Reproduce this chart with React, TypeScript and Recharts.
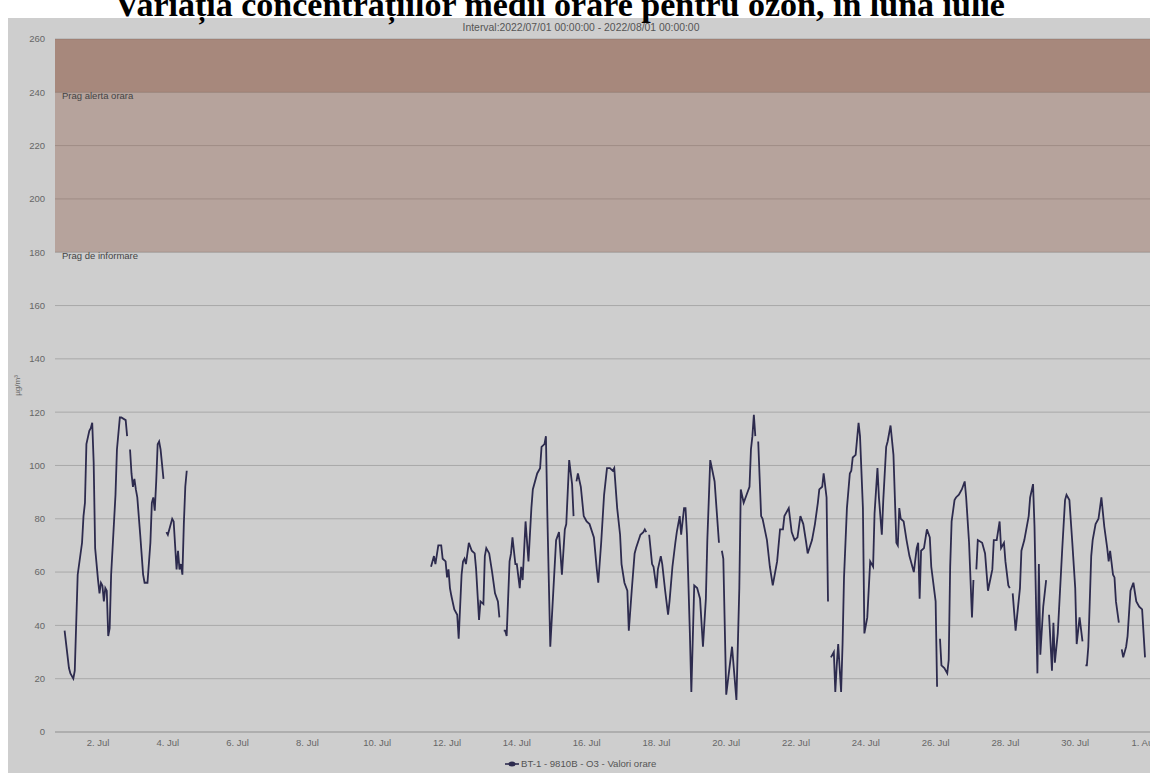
import React from "react";
import {
  CartesianGrid,
  Line,
  LineChart,
  ReferenceArea,
  ReferenceLine,
  XAxis,
  YAxis
} from "recharts";

// hours since 2022/07/01 00:00, null marks a gap in the measurements
const hours = [
  1, 4, 5, 7, 8, 10, 13, 14, 15, 16, 18, 19, 20, 21, 22, 24, 25, 26, 27, 28, 29, 30, 31, 32, 33, 36, 37, 39, 40, 43, 44, 45,
  46, 47, 48, 49, 50, 51, 53, 55, 56, 58, 60, 61, 62, 63, 64, 65, 66, 67, 69, 70,
  71, 72, 75, 76, 78, 79, 80, 81, 82, 83, 84, 85, 86,
  253, 255, 256, 258, 260, 261, 263, 264, 265, 266, 267, 269, 271, 272, 274, 275, 276, 277, 279, 281, 283, 284, 286, 287, 289,
  290, 291, 293, 295, 297, 299, 300, 301,
  303, 304, 305, 307, 308, 309, 311, 312, 314, 315, 316, 318, 320, 322, 323, 326, 328, 329, 331, 332, 333, 335, 337, 339, 341,
  342, 343, 345, 346, 348, 350, 351, 352,
  353, 354, 356, 358, 359, 360, 362, 365, 367, 368, 370, 372, 374, 376, 378, 379, 381, 383, 384, 386, 388, 389, 391, 393, 394,
  397, 399, 400, 401, 402,
  403, 405, 406, 408, 409, 411, 412, 414, 416, 417, 419, 421, 422, 424, 425, 427, 428, 429, 431, 432, 434, 436, 438, 440, 442,
  443, 445, 448, 451, 452,
  453, 454, 456, 460, 463, 465, 466, 468, 470, 472, 473, 474, 475, 476, 477,
  478, 480, 481, 484, 486, 488, 491, 493, 495, 496, 499, 501, 503, 505, 507, 509, 511, 512, 515, 517, 519, 520, 522, 523, 525,
  526, 527,
  528, 530, 531, 532, 533, 535, 536, 537, 539, 541, 542, 543, 545, 547, 548, 550, 551, 553, 555, 557, 558, 560, 561, 563, 564,
  566, 567, 569, 571, 573, 574, 575, 576, 578, 580, 582, 585, 587, 588, 589, 590, 592, 594, 596, 597, 600, 601, 602,
  603, 604, 606, 608, 609, 610, 611, 613, 614, 616, 618, 620, 621, 623, 625, 626, 627,
  628, 629, 632, 634, 636, 639, 640, 642, 644, 645, 647, 648, 650, 651, 652,
  653, 655, 658, 659, 661, 664, 665, 667, 668, 670, 671, 672, 674, 676, 677,
  678, 680, 681, 682, 684, 687, 689, 690, 692, 694, 696, 697, 699, 701, 702,
  703, 704, 705, 707, 708, 710, 712, 714, 716, 718, 719, 720, 722, 723, 724, 726, 727,
  728, 729, 731, 732, 734, 736, 738, 740, 742, 744
];

const o3 = [
  38, 24, 22, 20, 23, 59, 71, 81, 86, 108, 113, 114, 116, 101, 69, 57, 52, 56, 55, 49, 54, 53, 36, 39, 59, 89, 106, 118, 118, 117, 111, null,
  106, 97, 92, 95, 91, 88, 74, 59, 56, 56, 71, 86, 88, 83, 94, 108, 109, 106, 95, null,
  75, 74, 80, 79, 61, 68, 61, 63, 59, 78, 92, 98, null,
  62, 66, 63, 70, 70, 65, 64, 58, 61, 54, 51, 46, 44, 35, 59, 64, 65, 63, 71, 68, 67, 61, 42, 49, 48,
  66, 69, 67, 60, 52, 49, 43, null,
  38, 38, 36, 64, 67, 73, 63, 63, 54, 62, 57, 79, 64, 84, 91, 97, 99, 107, 108, 111, 81, 32, 52, 72, 75,
  67, 59, 76, 78, 102, 93, 81, null,
  94, 97, 92, 81, 80, 79, 78, 73, 61, 56, 71, 89, 99, 99, 98, 99, 84, 74, 63, 56, 53, 38, 53, 67, 69,
  74, 75, 76, 75, null,
  74, 63, 62, 54, 61, 66, 63, 53, 44, 49, 62, 71, 75, 81, 74, 84, 84, 74, 37, 15, 55, 54, 50, 32, 50,
  72, 102, 94, 71, null,
  68, 65, 14, 32, 12, 54, 91, 86, 89, 92, 106, 111, 119, 111, null,
  109, 81, 80, 72, 62, 55, 64, 76, 76, 81, 84, 75, 72, 73, 81, 78, 71, 67, 72, 78, 86, 91, 92, 97, 88,
  49, null,
  28, 30, 15, 25, 33, 15, 33, 58, 84, 97, 98, 103, 104, 116, 111, 84, 37, 43, 64, 62, 82, 99, 88, 74, 87,
  107, 109, 115, 104, 71, 70, 84, 80, 79, 72, 66, 60, 69, 71, 50, 68, 69, 76, 73, 62, 49, 17, null,
  35, 25, 24, 22, 27, 62, 79, 87, 88, 89, 91, 94, 88, 71, 43, 57, null,
  61, 72, 71, 67, 53, 61, 72, 72, 79, 69, 71, 64, 55, 54, null,
  52, 38, 54, 68, 72, 81, 88, 93, 77, 22, 63, 29, 47, 57, null,
  44, 23, 41, 26, 37, 68, 87, 89, 87, 71, 54, 33, 43, 34, null,
  25, 25, 32, 66, 72, 78, 80, 88, 77, 69, 64, 68, 59, 58, 49, 41, null,
  31, 28, 32, 36, 53, 56, 49, 47, 46, 28
];

const yTicks = [0, 20, 40, 60, 80, 100, 120, 140, 160, 180, 200, 220, 240, 260];
const xTicks = [24, 72, 120, 168, 216, 264, 312, 360, 408, 456, 504, 552, 600, 648, 696, 744];
const xTickLabels = [
  "2. Jul", "4. Jul", "6. Jul", "8. Jul", "10. Jul", "12. Jul", "14. Jul", "16. Jul",
  "18. Jul", "20. Jul", "22. Jul", "24. Jul", "26. Jul", "28. Jul", "30. Jul", "1. Aug"
];

const seriesName = "BT-1 - 9810B - O3 - Valori orare";
const lineColor = "#2d2b4e";
const sans = "'Liberation Sans', Arial, sans-serif";

export default function App() {
  const data = hours.map((h, i) => ({ h, v: o3[i] }));

  return (
    <div
      style={{
        position: "absolute",
        left: 0,
        top: 0,
        width: 1150,
        height: 773,
        overflow: "hidden",
        background: "#fff"
      }}
    >
      <div
        style={{
          position: "absolute",
          left: 8,
          top: 18,
          width: 1142,
          height: 755,
          background: "#cecece"
        }}
      />
      <div
        style={{
          position: "absolute",
          left: -15,
          top: -12,
          width: 1150,
          textAlign: "center",
          fontFamily: "'Liberation Serif', 'Times New Roman', serif",
          fontWeight: "bold",
          fontSize: 34,
          lineHeight: "34px",
          color: "#000",
          whiteSpace: "nowrap"
        }}
      >
        Variația concentrațiilor medii orare pentru ozon, în luna iulie
      </div>
      <div
        style={{
          position: "absolute",
          left: 481,
          top: 22,
          width: 200,
          display: "flex",
          justifyContent: "center",
          fontFamily: sans,
          fontSize: 10.4,
          color: "#555",
          whiteSpace: "nowrap"
        }}
      >
        Interval:2022/07/01 00:00:00 - 2022/08/01 00:00:00
      </div>

      <div style={{ position: "absolute", left: 0, top: 0 }}>
        <LineChart
          width={1170}
          height={773}
          data={data}
          margin={{ top: 39, right: 10, bottom: 0, left: 0 }}
        >
          <CartesianGrid vertical={false} stroke="#a9a9a9" />
          <ReferenceArea y1={180} y2={260} fill="#8c5a46" fillOpacity={0.36} stroke="none" />
          <ReferenceArea y1={240} y2={260} fill="#8c5a46" fillOpacity={0.36} stroke="none" />
          <ReferenceLine
            y={240}
            stroke="none"
            label={{
              value: "Prag alerta orara",
              position: "insideLeft",
              offset: 7,
              dy: 3,
              style: { fontFamily: sans, fontSize: 9.5, fill: "#444" }
            }}
          />
          <ReferenceLine
            y={180}
            stroke="none"
            label={{
              value: "Prag de informare",
              position: "insideLeft",
              offset: 7,
              dy: 3,
              style: { fontFamily: sans, fontSize: 9.5, fill: "#444" }
            }}
          />
          <XAxis
            type="number"
            dataKey="h"
            height={41}
            domain={[-5.6, 754.3]}
            allowDataOverflow
            ticks={xTicks}
            tickFormatter={(v: number) => xTickLabels[xTicks.indexOf(v)]}
            tickLine={false}
            tickSize={0}
            tickMargin={7}
            axisLine={{ stroke: "#a0a0a0" }}
            tick={{ fontFamily: sans, fontSize: 9.5, fill: "#666" }}
          />
          <YAxis
            width={55}
            domain={[0, 260]}
            ticks={yTicks}
            tickLine={false}
            axisLine={false}
            tickSize={0}
            tickMargin={10}
            tick={{ fontFamily: sans, fontSize: 9.5, fill: "#666" }}
            label={{
              value: "µg/m³",
              angle: -90,
              position: "insideLeft",
              offset: 17,
              style: { fontFamily: sans, fontSize: 8, fill: "#666", textAnchor: "middle" }
            }}
          />
          <Line
            type="linear"
            dataKey="v"
            stroke={lineColor}
            strokeWidth={1.8}
            dot={false}
            connectNulls={false}
            isAnimationActive={false}
          />
        </LineChart>
      </div>

      <div
        style={{
          position: "absolute",
          left: 505,
          top: 758,
          display: "flex",
          alignItems: "center",
          fontFamily: sans,
          fontSize: 9.6,
          color: "#555",
          whiteSpace: "nowrap"
        }}
      >
        <svg width={14} height={8} style={{ marginRight: 2 }}>
          <line x1={0} y1={4} x2={14} y2={4} stroke={lineColor} strokeWidth={1.6} />
          <ellipse cx={7} cy={4} rx={3.5} ry={2.5} fill={lineColor} />
        </svg>
        {seriesName}
      </div>
    </div>
  );
}
